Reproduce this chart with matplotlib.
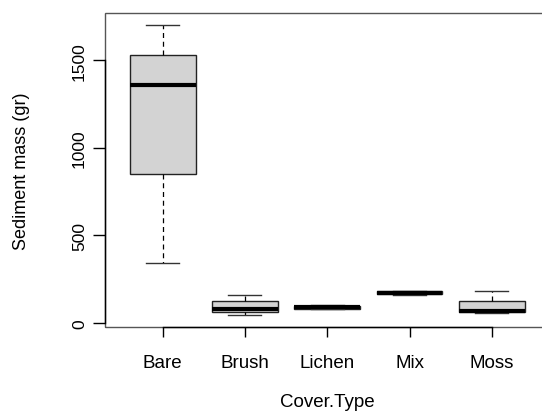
import matplotlib
matplotlib.use('Agg')
import matplotlib.pyplot as plt
from matplotlib.patches import Rectangle

plt.rcParams['font.family'] = ['Liberation Sans', 'DejaVu Sans']

# boxplot summary (Sediment mass in gr)
cover_types = ['Bare', 'Brush', 'Lichen', 'Mix', 'Moss']
whisk_lo = [341, 45, 78, 160, 58]
q1 = [850, 63, 80, 163, 60]
medians = [1356, 80, 90, 172, 67]
q3 = [1527, 123, 98, 180, 123]
whisk_hi = [1703, 157, 100, 183, 182]
y_ticks = [0, 500, 1000, 1500]

stats = []
for i in range(len(cover_types)):
    stats.append(dict(label=cover_types[i], whislo=whisk_lo[i], q1=q1[i],
                      med=medians[i], q3=q3[i], whishi=whisk_hi[i], fliers=[]))

fig = plt.figure(figsize=(5.42, 4.14), dpi=100)
# right edge of the plot box is cut off in the original
ax = fig.add_axes([0.1937, 0.2085, 0.8201, 0.7577])

pos = list(range(1, len(cover_types) + 1))
ax.bxp(stats, positions=pos, widths=0.8, patch_artist=True, showfliers=False,
       capwidths=0.4,
       boxprops=dict(facecolor='#d3d3d3', edgecolor='#222222', linewidth=1.0),
       medianprops=dict(color='black', linewidth=3, solid_capstyle='butt'),
       whiskerprops=dict(color='black', linewidth=0.9, linestyle=(0, (4, 3))),
       capprops=dict(color='#333333', linewidth=1.0))

# R style 4% padding
lo, hi = min(whisk_lo), max(whisk_hi)
pad = 0.04 * (hi - lo)
ax.set_ylim(lo - pad, hi + pad)
ax.set_xlim(0.5 - 0.2, len(cover_types) + 0.5 + 0.2)

for s in ['top', 'right']:
    ax.spines[s].set_visible(False)
ax.spines['left'].set_bounds(y_ticks[0], y_ticks[-1])
ax.spines['bottom'].set_bounds(pos[0], pos[-1])
for s in ['left', 'bottom']:
    ax.spines[s].set_color('black')
    ax.spines[s].set_linewidth(1.0)
ax.add_patch(Rectangle((0, 0), 1, 1, transform=ax.transAxes, fill=False,
                       edgecolor='#555555', linewidth=1.0, clip_on=False, zorder=0))

ax.set_xticks(pos)
ax.set_xticklabels(cover_types)
ax.set_yticks(y_ticks)
ax.set_yticklabels([str(t) for t in y_ticks], rotation=90, va='center')
ax.tick_params(axis='x', length=7.5, width=1.0, pad=12, labelsize=13.5)
ax.tick_params(axis='y', length=9, width=1.0, pad=4, labelsize=12.5)

ax.set_xlabel('Cover.Type', fontsize=13.5, va='center')
ax.xaxis.set_label_coords(0.5, -0.24)
ax.set_ylabel('Sediment mass (gr)', fontsize=13, va='center')
ax.yaxis.set_label_coords(-0.1874, 0.5)

fig.savefig('out.png', dpi=100)
